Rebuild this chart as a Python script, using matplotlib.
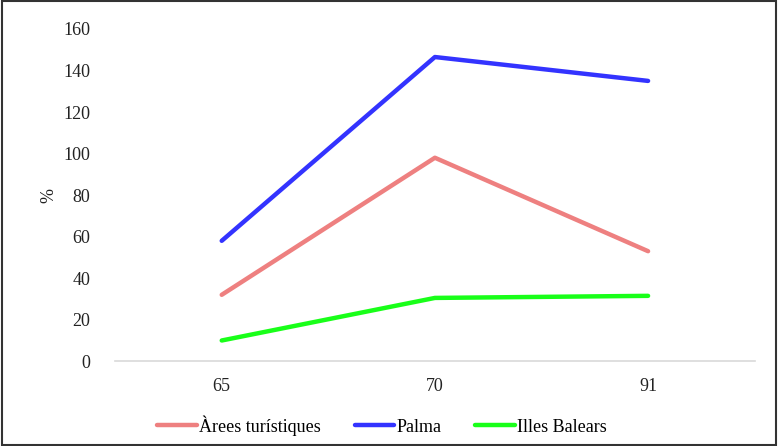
import matplotlib.pyplot as plt
from matplotlib.patches import Rectangle

# Data
years = ['65', '70', '91']
arees = [32, 98, 53]
palma = [58, 146.5, 135]
balears = [10, 30.5, 31.5]

plt.rcParams['font.family'] = ['Liberation Serif', 'DejaVu Serif']

fig, ax = plt.subplots(figsize=(7.78, 4.46), dpi=100)
fig.subplots_adjust(left=0.148, right=0.97, top=0.935, bottom=0.19)

x = range(len(years))
ax.plot(x, arees, color='#ee8080', lw=3.2, label='Àrees turístiques', solid_capstyle='round')
ax.plot(x, palma, color='#3333ff', lw=3.2, label='Palma', solid_capstyle='round')
ax.plot(x, balears, color='#19ff19', lw=3.2, label='Illes Balears', solid_capstyle='round')

ax.set_xlim(-0.5, 2.5)
ax.set_ylim(0, 160)
ax.set_yticks(range(0, 161, 20))
ax.set_xticks(list(x))
ax.set_xticklabels(years)
ax.tick_params(axis='both', length=0, labelsize=13, colors='#222222')
ax.tick_params(axis='y', pad=18)
ax.tick_params(axis='x', pad=12)
for s in ['top', 'right', 'left']:
    ax.spines[s].set_visible(False)
ax.spines['bottom'].set_color('#d9d9d9')
ax.spines['bottom'].set_linewidth(1.2)
ax.set_ylabel('%', fontsize=13, labelpad=4, color='#222222')

# legend sits centred on the figure, not on the axes
ax.legend(loc='upper center', bbox_to_anchor=(0.417, -0.113), ncol=3, frameon=False,
          fontsize=13, handlelength=2.2, handletextpad=0.1, columnspacing=1.9)

fig.patches.append(Rectangle((0.002, 0.002), 0.996, 0.996, transform=fig.transFigure,
                             fill=False, edgecolor='#333333', lw=1.5))

fig.savefig('out.png', dpi=100)
